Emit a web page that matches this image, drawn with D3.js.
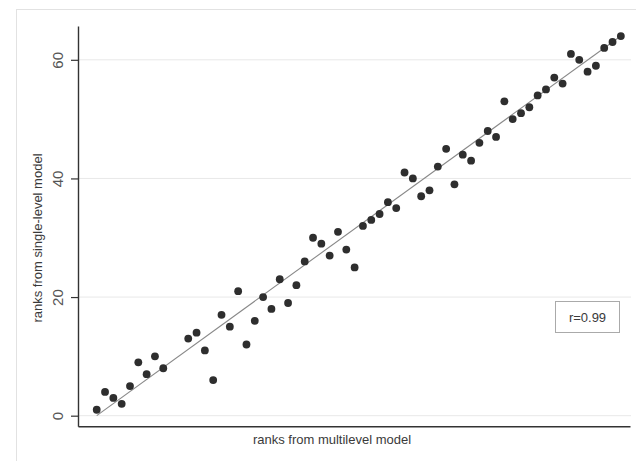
<!DOCTYPE html>
<html>
<head>
<meta charset="utf-8">
<script src="https://cdn.jsdelivr.net/npm/d3@7/dist/d3.min.js"></script>
<style>
  html, body { margin: 0; padding: 0; background: #fff; }
  svg { display: block; font-family: "Liberation Sans", Arial, sans-serif; }
</style>
</head>
<body>
<svg id="chart" width="636" height="461"></svg>
<script>
// ranks from multilevel model (x)
const multilevelRank = [1,2,3,4,5,6,7,8,9,
  12,13,14,15,16,17,18,19,20,21,22,23,24,25,26,27,28,
  29,30,31,32,33,34,35,36,37,38,39,40,41,42,43,44,45,46,47,48,49,50,
  51,52,53,54,55,56,57,58,59,60,61,62,63,64];
// ranks from single-level model (y)
const singleLevelRank = [1,4,3,2,5,9,7,10,8,
  13,14,11,6,17,15,21,12,16,20,18,23,19,22,26,30,29,
  27,31,28,25,32,33,34,36,35,41,40,37,38,42,45,39,44,43,46,48,47,53,
  50,51,52,54,55,57,56,61,60,58,59,62,63,64];
const yTicks = [0, 20, 40, 60];
const fitIntercept = -1.0;
const fitSlope = 1.016;
const fitRange = [1, 64];
const rLabel = "r=0.99";
const xTitle = "ranks from multilevel model";
const yTitle = "ranks from single-level model";

const svg = d3.select("#chart");

// outer frame
svg.append("rect").attr("x", 16.5).attr("y", 9.5).attr("width", 640).attr("height", 470)
  .attr("fill", "#fff").attr("stroke", "#e2e2e2");

const x = d3.scaleLinear().domain([-1.25, 65.1]).range([78, 630]);
const y = d3.scaleLinear().domain([-1.79, 65.7]).range([426.3, 26]);

// gridlines
svg.append("g").selectAll("line").data(yTicks).join("line")
  .attr("x1", 78).attr("x2", 631)
  .attr("y1", d => y(d)).attr("y2", d => y(d))
  .attr("stroke", "#e8e8e8").attr("stroke-width", 1);

// y axis
const yAxis = svg.append("g").attr("transform", "translate(78,0)")
  .call(d3.axisLeft(y).tickValues(yTicks).tickSize(7).tickSizeOuter(0).tickPadding(0));
yAxis.select(".domain").attr("stroke", "#333").attr("stroke-width", 1.4);
yAxis.selectAll(".tick line").attr("stroke", "#333").attr("stroke-width", 1.2);
yAxis.selectAll(".tick text")
  .attr("transform", "translate(-20,0) rotate(-90)")
  .attr("x", 0).attr("y", 0).attr("dy", "0.35em")
  .attr("text-anchor", "middle")
  .attr("font-size", 15).attr("fill", "#555")
  .attr("font-family", "Liberation Sans, Arial, sans-serif");

// x axis
const xAxis = svg.append("g").attr("transform", "translate(0,426.3)")
  .call(d3.axisBottom(x).tickValues([]).tickSizeOuter(0));
xAxis.select(".domain").attr("stroke", "#333").attr("stroke-width", 1.4);

// titles
svg.append("text").attr("x", 332).attr("y", 444)
  .attr("text-anchor", "middle").attr("font-size", 13).attr("fill", "#3a3a3a")
  .text(xTitle);
svg.append("text").attr("transform", "translate(42,238) rotate(-90)")
  .attr("text-anchor", "middle").attr("font-size", 13).attr("fill", "#3a3a3a")
  .text(yTitle);

// fit line
const line = d3.line().x(d => x(d)).y(d => y(fitIntercept + fitSlope * d));
svg.append("path").datum(fitRange).attr("d", line)
  .attr("fill", "none").attr("stroke", "#888").attr("stroke-width", 1.1);

// points
const pts = multilevelRank.map((v, i) => ({x: v, y: singleLevelRank[i]}));
svg.append("g").selectAll("circle").data(pts).join("circle")
  .attr("cx", d => x(d.x)).attr("cy", d => y(d.y)).attr("r", 3.9)
  .attr("fill", "#2e2e2e");

// legend box
svg.append("rect").attr("x", 555.5).attr("y", 301.5).attr("width", 64).attr("height", 31)
  .attr("fill", "#fff").attr("stroke", "#aaa").attr("stroke-width", 1);
svg.append("text").attr("x", 587.5).attr("y", 317).attr("dy", "0.35em")
  .attr("text-anchor", "middle").attr("font-size", 13).attr("fill", "#3a3a3a")
  .text(rLabel);
</script>
</body>
</html>
